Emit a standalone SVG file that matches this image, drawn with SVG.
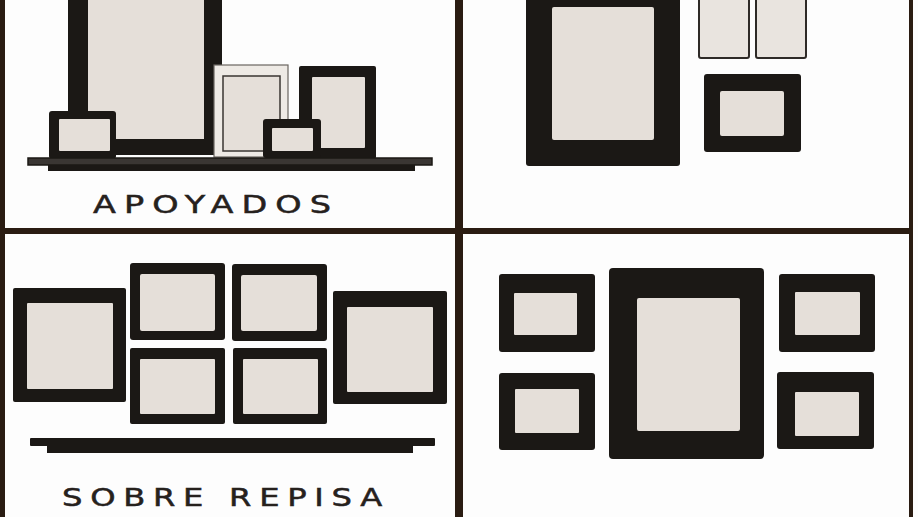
<svg xmlns="http://www.w3.org/2000/svg" width="918" height="517" viewBox="0 0 918 517">
<style>
.frame{fill:#1b1815}
.mat{fill:#e5dfd9}
.lightframe{fill:#eeeae5;stroke:#6a6560;stroke-width:1.2}
.lightmat{fill:#e5dfd9;stroke:#3a3632;stroke-width:1.5}
.label{font-family:"DejaVu Sans","Liberation Sans",sans-serif;font-size:25px;fill:#26211d;stroke:#26211d;stroke-width:0.5;letter-spacing:6px}
.border{fill:#2a1c12}
</style>
<rect x="0" y="0" width="918" height="517" fill="#fdfdfd"/>

<!-- Panel borders -->
<g id="borders">
<rect class="border" x="0" y="0" width="5" height="517"/>
<rect class="border" x="455" y="0" width="8" height="517"/>
<rect class="border" x="909" y="0" width="4" height="517"/>
<rect class="border" x="0" y="228" width="913" height="6"/>
</g>

<!-- Top-left: APOYADOS -->
<g id="tl-big">
<rect class="frame" x="68" y="-5" width="154" height="160" rx="2"/>
<rect class="mat" x="88" y="-5" width="116" height="144"/>
</g>
<g id="tl-light">
<rect class="lightframe" x="214" y="65" width="74" height="92"/>
<rect class="lightmat" x="223" y="76" width="57" height="75"/>
</g>
<g id="tl-right">
<rect class="frame" x="299" y="66" width="77" height="93" rx="2"/>
<rect class="mat" x="312" y="77" width="53" height="71" rx="1"/>
</g>
<g id="tl-small-left">
<rect class="frame" x="49" y="111" width="67" height="48" rx="3"/>
<rect class="mat" x="59" y="119" width="51" height="32" rx="1"/>
</g>
<g id="tl-small-mid">
<rect class="frame" x="263" y="119" width="58" height="39" rx="3"/>
<rect class="mat" x="272" y="128" width="41" height="23" rx="1"/>
</g>
<g id="tl-shelf">
<rect x="28" y="158" width="404" height="7" fill="#3a3633" stroke="#1b1815" stroke-width="1.5"/>
<rect class="frame" x="48" y="165" width="367" height="6"/>
</g>
<text id="label-apoyados" class="label" x="93" y="213" textLength="246" lengthAdjust="spacingAndGlyphs">APOYADOS</text>

<!-- Top-right -->
<g id="tr-big">
<rect class="frame" x="526" y="-5" width="154" height="171" rx="3"/>
<rect class="mat" x="552" y="7" width="102" height="133" rx="2"/>
</g>
<g id="tr-light-1">
<rect x="699" y="-5" width="50" height="63" rx="2" fill="#e9e4df" stroke="#2e2a27" stroke-width="2"/>
</g>
<g id="tr-light-2">
<rect x="756" y="-5" width="50" height="63" rx="2" fill="#e9e4df" stroke="#2e2a27" stroke-width="2"/>
</g>
<g id="tr-small">
<rect class="frame" x="704" y="74" width="97" height="78" rx="3"/>
<rect class="mat" x="720" y="91" width="64" height="45" rx="2"/>
</g>

<!-- Bottom-left: SOBRE REPISA -->
<g id="bl-1">
<rect class="frame" x="13" y="288" width="113" height="114" rx="2"/>
<rect class="mat" x="27" y="303" width="86" height="86" rx="1"/>
</g>
<g id="bl-2">
<rect class="frame" x="130" y="263" width="95" height="77" rx="3"/>
<rect class="mat" x="140" y="274" width="75" height="57" rx="2"/>
</g>
<g id="bl-3">
<rect class="frame" x="232" y="264" width="95" height="77" rx="3"/>
<rect class="mat" x="241" y="275" width="76" height="56" rx="2"/>
</g>
<g id="bl-4">
<rect class="frame" x="130" y="348" width="95" height="76" rx="2"/>
<rect class="mat" x="140" y="359" width="75" height="55" rx="1"/>
</g>
<g id="bl-5">
<rect class="frame" x="233" y="348" width="94" height="76" rx="2"/>
<rect class="mat" x="243" y="359" width="75" height="55" rx="1"/>
</g>
<g id="bl-6">
<rect class="frame" x="333" y="291" width="114" height="113" rx="2"/>
<rect class="mat" x="347" y="307" width="86" height="85" rx="1"/>
</g>
<g id="bl-shelf">
<rect class="frame" x="30" y="438" width="405" height="8" rx="1"/>
<rect class="frame" x="47" y="446" width="366" height="7"/>
</g>
<text id="label-sobre-repisa" class="label" x="62" y="506" textLength="328" lengthAdjust="spacingAndGlyphs">SOBRE REPISA</text>

<!-- Bottom-right -->
<g id="br-tl">
<rect class="frame" x="499" y="274" width="96" height="78" rx="3"/>
<rect class="mat" x="514" y="293" width="63" height="42" rx="1"/>
</g>
<g id="br-bl">
<rect class="frame" x="499" y="373" width="96" height="77" rx="3"/>
<rect class="mat" x="515" y="389" width="64" height="44" rx="1"/>
</g>
<g id="br-center">
<rect class="frame" x="609" y="268" width="155" height="191" rx="4"/>
<rect class="mat" x="637" y="298" width="103" height="133" rx="2"/>
</g>
<g id="br-tr">
<rect class="frame" x="779" y="274" width="96" height="78" rx="3"/>
<rect class="mat" x="795" y="292" width="65" height="43" rx="1"/>
</g>
<g id="br-br">
<rect class="frame" x="777" y="372" width="97" height="77" rx="3"/>
<rect class="mat" x="795" y="392" width="64" height="44" rx="1"/>
</g>
</svg>
